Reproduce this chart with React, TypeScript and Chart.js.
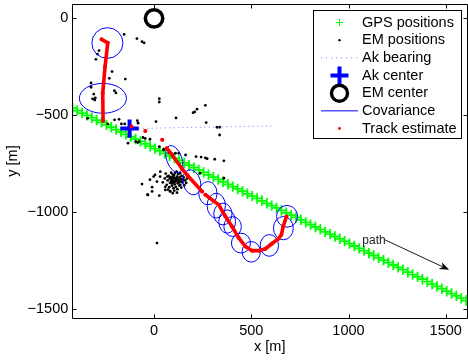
import React, { useEffect, useRef } from 'react';
import { Chart, registerables } from 'chart.js';

Chart.register(...registerables);

const FONT = "'Liberation Sans', Arial, Helvetica, sans-serif";

// ---- axes ----
const xLimits = [-422, 1612];
const yLimits = [-1544, 74];
const xTicks = [0, 500, 1000, 1500];
const yTicks = [-1500, -1000, -500, 0];
const xTitle = 'x [m]';
const yTitle = 'y [m]';

// ---- GPS positions (green +) ----
const gpsX = [-420, -395, -370, -345, -320, -295, -270, -245, -220, -195, -170, -145, -120, -95, -70, -45, -20, 5, 30, 55,
  80, 105, 130, 155, 180, 205, 230, 255, 280, 305, 330, 355, 380, 405, 430, 455, 480, 505, 530, 555,
  580, 605, 630, 655, 680, 705, 730, 755, 780, 805, 830, 855, 880, 905, 930, 955, 980, 1005, 1030, 1055,
  1080, 1105, 1130, 1155, 1180, 1205, 1230, 1255, 1280, 1305, 1330, 1355, 1380, 1405, 1430, 1455, 1480, 1505, 1530, 1555,
  1580, 1605];
const gpsY = [-463, -475, -488, -500, -512, -524, -536, -549, -561, -573, -585, -598, -610, -622, -634, -647, -659, -671, -683, -696,
  -708, -720, -732, -745, -757, -769, -781, -794, -806, -818, -830, -842, -855, -867, -879, -891, -904, -916, -928, -940,
  -953, -965, -977, -989, -1002, -1014, -1026, -1038, -1051, -1063, -1075, -1087, -1100, -1112, -1124, -1136, -1148, -1161, -1173, -1185,
  -1197, -1210, -1222, -1234, -1246, -1259, -1271, -1283, -1295, -1308, -1320, -1332, -1344, -1357, -1369, -1381, -1393, -1406, -1418, -1430,
  -1442, -1454];

// ---- EM positions (black dots) ----
const emPositions: [number, number][] = [
  [-154, -83], [-88, -104], [-62, -120], [-51, -126], [-283, -166], [-291, -184], [-299, -211], [-216, -274], [-230, -309], [-148, -313],
  [-324, -333], [-324, -355], [-204, -373], [-196, -384], [-310, -390], [-302, -410], [-316, -415], [-305, -421], [27, -414], [27, -431],
  [221, -468], [209, -482], [201, -486], [264, -448], [113, -513], [-342, -515], [-203, -523], [-180, -520], [-238, -544], [-168, -544],
  [-151, -544], [10, -532], [-86, -527], [-82, -540], [268, -537], [324, -561], [337, -561], [337, -601], [-57, -614], [-46, -618],
  [-21, -623], [-95, -635], [-84, -640], [-77, -635], [-134, -643], [27, -661], [50, -674], [162, -704], [216, -712], [242, -715],
  [264, -719], [273, -723], [312, -726], [76, -692], [93, -698], [110, -695], [127, -695], [359, -824], [359, -734], [15, -1158],
  [-62, -854], [-31, -910], [-10, -892], [-10, -870], [27, -913], [32, -790], [-2, -815], [15, -841], [-34, -909], [48, -678],
  [31, -815], [82, -892], [96, -901], [58, -884], [237, -798], [5, -806], [-21, -831],
  [60, -800], [75, -812], [88, -795], [95, -820], [102, -808], [110, -825], [118, -815], [125, -830], [132, -818], [140, -840],
  [70, -835], [82, -848], [90, -830], [98, -842], [106, -855], [114, -838], [122, -850], [130, -862], [138, -828], [146, -845],
  [55, -825], [65, -858], [78, -870], [92, -862], [100, -875], [112, -868], [120, -880], [128, -845], [135, -858], [150, -832],
  [85, -818], [96, -805], [108, -797], [116, -790], [124, -803], [134, -798], [142, -812], [152, -820], [160, -835], [165, -848],
  [45, -845], [58, -868], [72, -882], [84, -890], [104, -888], [118, -898], [140, -872], [155, -860], [170, -825], [176, -812],
  [100, -835], [107, -842], [113, -830], [119, -822], [94, -850], [88, -838], [126, -838], [102, -820], [80, -825], [68, -815],
];

// ---- Ak bearing, centers ----
const akBearingX = [-126, 613];
const akBearingY = [-568, -554];
const akCenter: [number, number] = [-126, -568];
const emCenter: [number, number] = [0, 0];

// ---- Covariance ellipses: centre, semi-axes (m), rotation (deg) ----
const covX = [-240, -263, 104, 194, 277, 320, 354, 376, 404, 447, 500, 593, 665, 684];
const covY = [-127, -412, -725, -845, -901, -965, -1008, -1047, -1073, -1158, -1203, -1170, -1081, -1020];
const covRx = [80, 121, 39, 45, 47, 47, 47, 43, 45, 49, 47, 47, 51, 54];
const covRy = [79, 77, 73, 66, 60, 64, 56, 60, 51, 51, 53, 56, 60, 56];
const covRot = [0, 0, -20, -15, 0, 0, 0, 0, 0, 0, 0, 0, 0, 0];

// ---- Track estimate (null = break) ----
const trackPoints: ([number, number] | null)[] = [
  [-270, -108], [-238, -126], [-252, -249], [-264, -386], [-262, -529], null,
  [-116, -557], null, [-45, -580], null, [42, -626], null,
  [65, -669], [93, -704], [144, -775], [170, -807], [247, -892], null,
  [264, -909], [333, -961], [367, -1021], [401, -1073], [436, -1132], [470, -1175], [504, -1197], [539, -1197],
  [573, -1187], [607, -1160], [640, -1135], [655, -1115], [664, -1073], [681, -1021],
];

// ---- annotation ----
const pathLabel = 'path';
const pathLabelPos = [1071, -1146];
const pathArrowFrom = [1187, -1141];
const pathArrowTo = [1518, -1296];

const legendLabels = ['GPS positions', 'EM positions', 'Ak bearing', 'Ak center', 'EM center', 'Covariance', 'Track estimate'];

const fmt = (v: number) => (v < 0 ? '\u2212' + Math.abs(v) : String(v));

const TRACK_INDEX = 6;

function drawEllipses(chart: any) {
  const { ctx } = chart;
  const xs = chart.scales.x;
  const ys = chart.scales.y;
  ctx.save();
  ctx.strokeStyle = '#0000ff';
  ctx.lineWidth = 1;
  for (let i = 0; i < covX.length; i++) {
    const cx = xs.getPixelForValue(covX[i]);
    const cy = ys.getPixelForValue(covY[i]);
    const rx = Math.abs(xs.getPixelForValue(covX[i] + covRx[i]) - cx);
    const ry = Math.abs(ys.getPixelForValue(covY[i] + covRy[i]) - cy);
    ctx.beginPath();
    ctx.ellipse(cx, cy, rx, ry, (covRot[i] * Math.PI) / 180, 0, Math.PI * 2);
    ctx.stroke();
  }
  ctx.restore();
}

function drawFrame(chart: any) {
  const { ctx, chartArea: a } = chart;
  const xs = chart.scales.x;
  const ys = chart.scales.y;
  const L = Math.round(a.left) + 0.5;
  const R = Math.round(a.right) - 0.5;
  const T = Math.round(a.top) + 0.5;
  const B = Math.round(a.bottom) + 0.5;
  const tl = 4;
  ctx.save();
  ctx.strokeStyle = '#000';
  ctx.lineWidth = 1;
  ctx.beginPath();
  ctx.rect(L, T, R - L, B - T);
  xTicks.forEach((v) => {
    const px = Math.round(xs.getPixelForValue(v)) + 0.5;
    ctx.moveTo(px, B); ctx.lineTo(px, B - tl);
    ctx.moveTo(px, T); ctx.lineTo(px, T + tl);
  });
  yTicks.forEach((v) => {
    const py = Math.round(ys.getPixelForValue(v)) + 0.5;
    ctx.moveTo(L, py); ctx.lineTo(L + tl, py);
    ctx.moveTo(R, py); ctx.lineTo(R - tl, py);
  });
  ctx.stroke();
  ctx.restore();
}

function drawAnnotation(chart: any) {
  const { ctx } = chart;
  const xs = chart.scales.x;
  const ys = chart.scales.y;
  ctx.save();
  ctx.fillStyle = '#222';
  ctx.font = `12px ${FONT}`;
  ctx.textAlign = 'left';
  ctx.textBaseline = 'middle';
  ctx.fillText(pathLabel, xs.getPixelForValue(pathLabelPos[0]), ys.getPixelForValue(pathLabelPos[1]));
  const x1 = xs.getPixelForValue(pathArrowFrom[0]);
  const y1 = ys.getPixelForValue(pathArrowFrom[1]);
  const x2 = xs.getPixelForValue(pathArrowTo[0]);
  const y2 = ys.getPixelForValue(pathArrowTo[1]);
  const len = Math.hypot(x2 - x1, y2 - y1);
  const ux = (x2 - x1) / len;
  const uy = (y2 - y1) / len;
  const nx = -uy;
  const ny = ux;
  const H = 10;
  const W = 3.8;
  const N = 7;
  ctx.strokeStyle = '#000';
  ctx.fillStyle = '#000';
  ctx.lineWidth = 0.9;
  ctx.beginPath();
  ctx.moveTo(x1, y1);
  ctx.lineTo(x2 - ux * N, y2 - uy * N);
  ctx.stroke();
  ctx.beginPath();
  ctx.moveTo(x2, y2);
  ctx.lineTo(x2 - ux * H + nx * W, y2 - uy * H + ny * W);
  ctx.lineTo(x2 - ux * N, y2 - uy * N);
  ctx.lineTo(x2 - ux * H - nx * W, y2 - uy * H - ny * W);
  ctx.closePath();
  ctx.fill();
  ctx.restore();
}

function drawLegend(chart: any) {
  const { ctx } = chart;
  const L = 313.5, T = 10.5, W = 148, H = 128;
  ctx.save();
  ctx.fillStyle = '#fff';
  ctx.fillRect(L, T, W, H);
  ctx.strokeStyle = '#000';
  ctx.lineWidth = 1;
  ctx.strokeRect(L, T, W, H);
  const sx = 339.5, lx0 = 321, lx1 = 358, tx = 362, y0 = 22.5, dy = 17.67;
  legendLabels.forEach((label, i) => {
    const y = y0 + i * dy;
    ctx.save();
    ctx.beginPath();
    if (i === 0) {
      ctx.strokeStyle = '#00ff00'; ctx.lineWidth = 1;
      ctx.moveTo(sx - 3.5, y); ctx.lineTo(sx + 3.5, y);
      ctx.moveTo(sx, y - 3.5); ctx.lineTo(sx, y + 3.5);
      ctx.stroke();
    } else if (i === 1) {
      ctx.fillStyle = '#000';
      ctx.arc(sx, y, 1.2, 0, Math.PI * 2); ctx.fill();
    } else if (i === 2) {
      ctx.strokeStyle = '#8c8cff'; ctx.lineWidth = 1; ctx.setLineDash([1.2, 3.8]);
      ctx.moveTo(lx0, y); ctx.lineTo(lx1, y); ctx.stroke();
    } else if (i === 3) {
      ctx.strokeStyle = '#0000ff'; ctx.lineWidth = 4;
      ctx.moveTo(sx - 9, y); ctx.lineTo(sx + 9, y);
      ctx.moveTo(sx, y - 9); ctx.lineTo(sx, y + 9);
      ctx.stroke();
    } else if (i === 4) {
      ctx.strokeStyle = '#000'; ctx.lineWidth = 3.4;
      ctx.arc(sx, y, 8, 0, Math.PI * 2); ctx.stroke();
    } else if (i === 5) {
      ctx.strokeStyle = '#0000ff'; ctx.lineWidth = 1;
      ctx.moveTo(lx0, y); ctx.lineTo(lx1, y); ctx.stroke();
    } else {
      ctx.fillStyle = '#ff0000';
      ctx.arc(sx, y, 1.4, 0, Math.PI * 2); ctx.fill();
    }
    ctx.restore();
    ctx.fillStyle = '#000';
    ctx.font = `14.5px ${FONT}`;
    ctx.textAlign = 'left';
    ctx.textBaseline = 'middle';
    ctx.fillText(label, tx, y);
  });
  ctx.restore();
}

const overlayPlugin = {
  id: 'overlay',
  beforeDatasetDraw(chart: any, args: any) {
    if (args.index === TRACK_INDEX) drawEllipses(chart);
  },
  afterDraw(chart: any) {
    drawFrame(chart);
    drawAnnotation(chart);
    drawLegend(chart);
  },
};

const zeroPad = (s: any) => {
  s.paddingLeft = 0;
  s.paddingRight = 0;
  s.paddingTop = 0;
  s.paddingBottom = 0;
};

export default function App() {
  const ref = useRef<HTMLCanvasElement | null>(null);

  useEffect(() => {
    if (!ref.current) return;
    const tickFont = { family: FONT, size: 14.5 };
    const chart = new Chart(ref.current, {
      type: 'scatter',
      data: {
        datasets: [
          {
            label: legendLabels[0],
            data: gpsX.map((x, i) => ({ x, y: gpsY[i] })),
            pointStyle: 'cross',
            pointRadius: 5.2,
            pointBorderWidth: 1.8,
            pointBorderColor: '#00ff00',
            borderColor: '#00ff00',
            order: 7,
          },
          {
            label: legendLabels[1],
            data: emPositions.map(([x, y]) => ({ x, y })),
            pointStyle: 'circle',
            pointRadius: 1.4,
            pointBorderWidth: 0,
            pointBackgroundColor: '#000',
            order: 6,
          },
          {
            label: legendLabels[2],
            data: akBearingX.map((x, i) => ({ x, y: akBearingY[i] })),
            showLine: true,
            borderColor: '#8c8cff',
            borderWidth: 1,
            borderDash: [1.2, 3.2],
            pointRadius: 0,
            order: 5,
          },
          {
            label: legendLabels[3],
            data: [{ x: akCenter[0], y: akCenter[1] }],
            pointStyle: 'cross',
            pointRadius: 9.2,
            pointBorderWidth: 4,
            pointBorderColor: '#0000ff',
            order: 3,
          },
          {
            label: legendLabels[4],
            data: [{ x: emCenter[0], y: emCenter[1] }],
            pointStyle: 'circle',
            pointRadius: 8.7,
            pointBorderWidth: 3.5,
            pointBorderColor: '#000',
            pointBackgroundColor: 'rgba(0,0,0,0)',
            order: 2,
          },
          {
            label: legendLabels[5],
            data: covX.map((x, i) => ({ x, y: covY[i] })),
            pointRadius: 0,
            order: 4,
          },
          {
            label: legendLabels[6],
            data: trackPoints.map((p) => (p ? { x: p[0], y: p[1] } : { x: NaN, y: NaN })),
            showLine: true,
            spanGaps: false,
            borderColor: '#ff0000',
            borderWidth: 3.6,
            borderCapStyle: 'round',
            borderJoinStyle: 'round',
            pointStyle: 'circle',
            pointRadius: 2,
            pointBorderWidth: 0,
            pointBackgroundColor: '#ff0000',
            order: 0,
          },
        ] as any,
      },
      options: {
        responsive: false,
        maintainAspectRatio: false,
        animation: false,
        devicePixelRatio: 1,
        events: [],
        layout: { autoPadding: false, padding: { top: 4, right: 0.5, left: 0, bottom: 0 } },
        plugins: {
          legend: { display: false },
          tooltip: { enabled: false },
        },
        elements: { line: { tension: 0 } },
        scales: {
          x: {
            type: 'linear',
            position: 'bottom',
            min: xLimits[0],
            max: xLimits[1],
            grid: { display: false, drawTicks: false },
            border: { display: false },
            ticks: {
              font: tickFont,
              color: '#000',
              padding: 4,
              maxRotation: 0,
              autoSkip: false,
              callback: (v: any) => fmt(Number(v)),
            },
            afterBuildTicks: (s: any) => {
              s.ticks = xTicks.map((value) => ({ value }));
            },
            afterFit: (s: any) => {
              s.height = 42;
              zeroPad(s);
            },
            title: {
              display: true,
              text: xTitle,
              color: '#000',
              font: tickFont,
              padding: { top: 0, bottom: 4.5 },
            },
          },
          y: {
            type: 'linear',
            position: 'left',
            min: yLimits[0],
            max: yLimits[1],
            grid: { display: false, drawTicks: false },
            border: { display: false },
            ticks: {
              font: tickFont,
              color: '#000',
              padding: 3.7,
              autoSkip: false,
              callback: (v: any) => fmt(Number(v)),
            },
            afterBuildTicks: (s: any) => {
              s.ticks = yTicks.map((value) => ({ value }));
            },
            afterFit: (s: any) => {
              s.width = 72;
              zeroPad(s);
            },
            title: {
              display: true,
              text: yTitle,
              color: '#000',
              font: tickFont,
              padding: { top: 4.1, bottom: 0 },
            },
          },
        },
      } as any,
      plugins: [overlayPlugin],
    });
    return () => chart.destroy();
  }, []);

  return (
    <div style={{ position: 'absolute', left: 0, top: 0, width: 468, height: 360, background: '#fff' }}>
      <canvas ref={ref} width={468} height={360} style={{ display: 'block', width: 468, height: 360 }} />
    </div>
  );
}
